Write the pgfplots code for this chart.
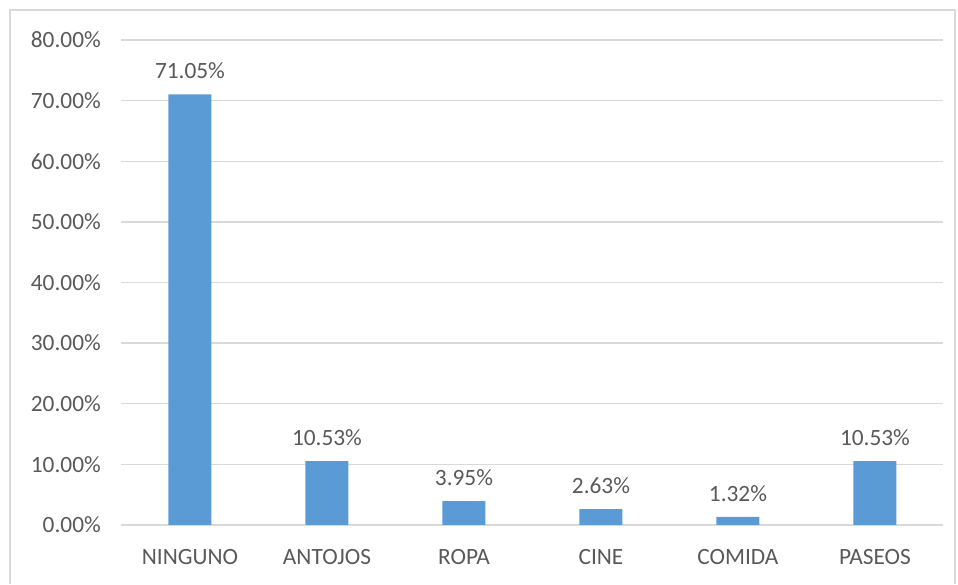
\documentclass[border=0pt]{standalone}
\usepackage{pgfplots}
\pgfplotsset{compat=1.18}
\usepackage{fontspec}
\setmainfont{Carlito}
\definecolor{barblue}{HTML}{5B9BD5}
\definecolor{txtgray}{HTML}{595959}
\definecolor{gridgray}{HTML}{D9D9D9}
\begin{document}
\begin{tikzpicture}
\begin{axis}[
  scale only axis,
  width=616.5pt, height=363.75pt,
  xmin=-0.5, xmax=5.5,
  ymin=0, ymax=80,
  axis line style={draw=none},
  axis x line*=bottom,
  ybar, bar width=32.25pt,
  xtick={0,1,2,3,4,5},
  xticklabels={NINGUNO,ANTOJOS,ROPA,CINE,COMIDA,PASEOS},
  ytick={0,10,...,80},
  yticklabels={0.00\%,10.00\%,20.00\%,30.00\%,40.00\%,50.00\%,60.00\%,70.00\%,80.00\%},
  major tick length=0pt,
  ymajorgrids,
  grid style={draw=gridgray, line width=1.1pt},
  tick label style={font=\fontsize{17.5}{21}\selectfont, text=txtgray},
  yticklabel style={xshift=-12pt},
  xticklabel style={yshift=-15pt},
  nodes near coords,
  point meta=explicit symbolic,
  every node near coord/.append style={font=\fontsize{17.5}{21}\selectfont, text=txtgray, yshift=8pt},
  clip=false,
]
\addplot[fill=barblue, draw=none] coordinates {
  (0,71.05) [71.05\%]
  (1,10.53) [10.53\%]
  (2,3.95) [3.95\%]
  (3,2.63) [2.63\%]
  (4,1.32) [1.32\%]
  (5,10.53) [10.53\%]
};
\draw[gridgray, line width=1.5pt] (rel axis cs:-0.1357,-0.1216) -- (rel axis cs:-0.1357,1.0619) -- (rel axis cs:1.0140,1.0619) -- (rel axis cs:1.0140,-0.1216);
\useasboundingbox (rel axis cs:-0.1478,1.0825) rectangle (rel axis cs:1.0177,-0.1216);
\end{axis}
\end{tikzpicture}
\end{document}
